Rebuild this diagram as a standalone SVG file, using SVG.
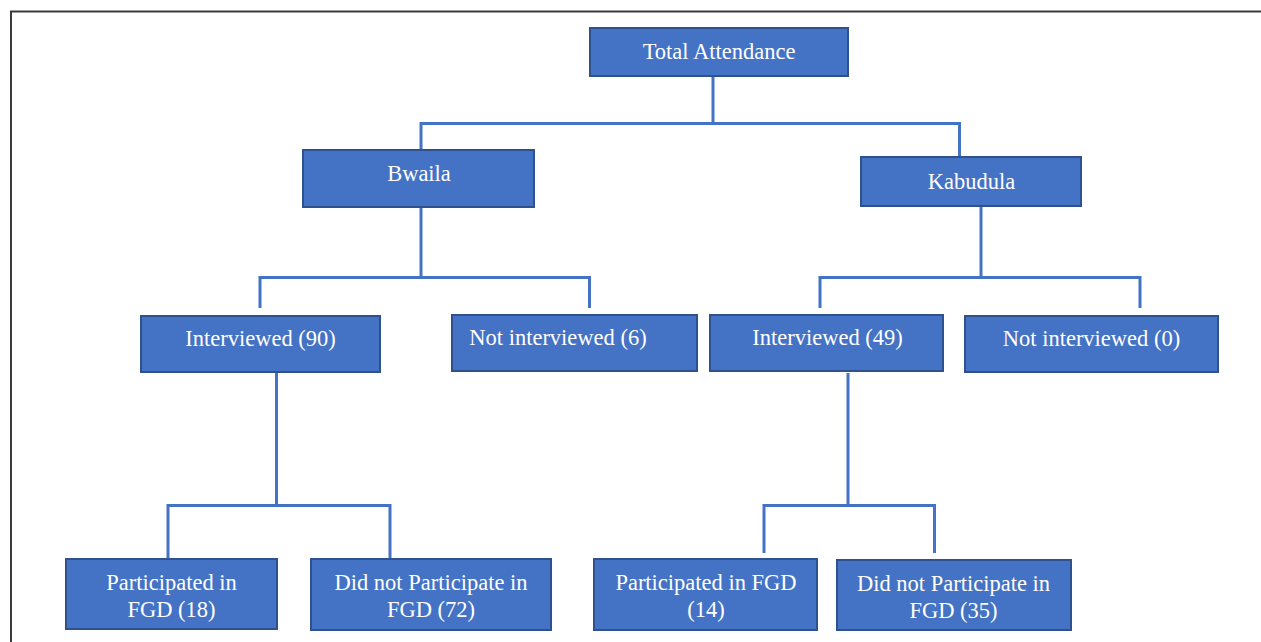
<svg xmlns="http://www.w3.org/2000/svg" width="1261" height="642" viewBox="0 0 1261 642">
<style>
.box{fill:#4472C4;stroke:#2F528F;stroke-width:2}
.lbl{font-family:"Liberation Serif","Times New Roman",serif;font-size:22.5px;fill:#ffffff;text-anchor:middle}
.con{fill:none;stroke:#4472C4;stroke-width:3}
.frame{fill:none;stroke:#3a3a3a;stroke-width:2}
</style>
<rect width="1261" height="642" fill="#ffffff"/>
<path class="frame" d="M11,642 V11.5 H1261"/>
<g id="connectors">
<path class="con" d="M713,77 V123.5 M421,150 V123.5 H959.5 V157"/>
<path class="con" d="M421,207 V277.5 M260,308 V277.5 H589.5 V308"/>
<path class="con" d="M981,206 V277.5 M820,308 V277.5 H1140 V308"/>
<path class="con" d="M276.5,373 V505.5 M168,559 V505.5 H390 V559"/>
<path class="con" d="M848,373 V505.5 M764,553 V505.5 H934.5 V553"/>
</g>
<g id="total"><rect class="box" x="590" y="28" width="258" height="48"/><text class="lbl" x="719" y="59">Total Attendance</text></g>
<g id="bwaila"><rect class="box" x="303" y="150" width="231" height="57"/><text class="lbl" x="419" y="181">Bwaila</text></g>
<g id="kabudula"><rect class="box" x="861" y="157" width="220" height="49"/><text class="lbl" x="971.5" y="189">Kabudula</text></g>
<g id="bw-int"><rect class="box" x="141" y="316" width="239" height="56"/><text class="lbl" x="260.5" y="346">Interviewed (90)</text></g>
<g id="bw-notint"><rect class="box" x="452" y="315" width="245" height="56"/><text class="lbl" x="558" y="345">Not interviewed (6)</text></g>
<g id="kb-int"><rect class="box" x="710" y="315" width="233" height="56"/><text class="lbl" x="827.5" y="345">Interviewed (49)</text></g>
<g id="kb-notint"><rect class="box" x="965" y="316" width="253" height="56"/><text class="lbl" x="1091.5" y="346">Not interviewed (0)</text></g>
<g id="bw-fgd"><rect class="box" x="66" y="559" width="211" height="70"/><text class="lbl" x="171.5" y="590">Participated in</text><text class="lbl" x="171.5" y="617">FGD (18)</text></g>
<g id="bw-nofgd"><rect class="box" x="311" y="559" width="240" height="71"/><text class="lbl" x="431" y="590">Did not Participate in</text><text class="lbl" x="431" y="617">FGD (72)</text></g>
<g id="kb-fgd"><rect class="box" x="594" y="559" width="223" height="71"/><text class="lbl" x="706" y="590">Participated in FGD</text><text class="lbl" x="706" y="617">(14)</text></g>
<g id="kb-nofgd"><rect class="box" x="837" y="560" width="234" height="70"/><text class="lbl" x="953.5" y="591">Did not Participate in</text><text class="lbl" x="953.5" y="618">FGD (35)</text></g>
</svg>
